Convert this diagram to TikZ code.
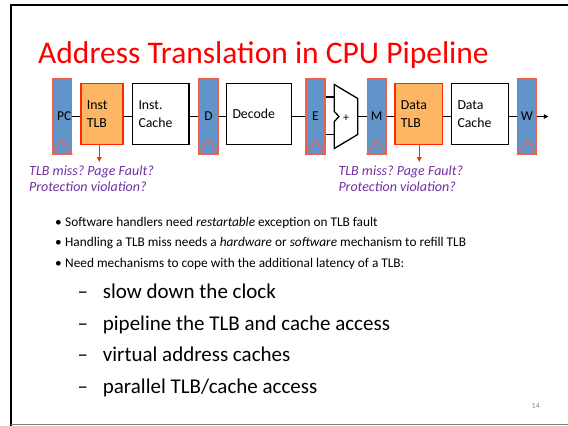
\documentclass[tikz,border=0pt]{standalone}
\usepackage{fontspec}
\setmainfont{Carlito}
\usetikzlibrary{arrows.meta}
\definecolor{regblue}{RGB}{97,148,200}
\definecolor{regedge}{RGB}{238,96,78}
\definecolor{tlbfill}{RGB}{252,182,100}
\definecolor{tlbedge}{RGB}{255,40,0}
\definecolor{faultpurple}{RGB}{112,48,160}
\definecolor{pagegray}{RGB}{140,140,140}
\frenchspacing
\tikzset{
  pipereg/.style={draw=regedge, fill=regblue, line width=1.1pt, minimum width=19pt, minimum height=75pt, inner sep=0pt, font=\fontsize{13.5}{15}\selectfont},
  stagebox/.style={draw=black, line width=1.3pt, fill=white, minimum height=61.2pt, inner xsep=5.8pt, inner ysep=0pt, align=left, font=\fontsize{13.8}{17.7}\selectfont},
  tlbbox/.style={stagebox, draw=tlbedge, fill=tlbfill},
  wire/.style={line width=1.3pt},
  faultarrow/.style={tlbedge, line width=1.3pt, -{Triangle[length=4.5pt,width=4.5pt]}},
  faultnote/.style={faultpurple, anchor=base west, inner sep=0pt, font=\fontsize{14}{16}\selectfont\itshape},
  bodytext/.style={anchor=base west, inner sep=0pt, font=\fontsize{13.3}{15}\selectfont},
  subtext/.style={anchor=base west, inner sep=0pt, font=\fontsize{21}{24}\selectfont}
}
\begin{document}
\begin{tikzpicture}[x=1pt, y=-1pt]
  \useasboundingbox (0,0) rectangle (568,426);
  \draw[black, line width=1.8pt] (11,426) -- (11,5) -- (572,5);
  \draw[gray, line width=1.5pt] (11,424.7) -- (572,424.7);

  \node[anchor=base west, inner sep=0pt, red, font=\fontsize{31.5}{34}\selectfont] (title) at (38,63) {Address Translation in CPU Pipeline};

  \node[pipereg, text width=18pt, align=right] (pc) at (62.2,116.5) {PC};
  \node[tlbbox, text width=30.4pt] (itlb) at (102,113.9) {Inst\\TLB};
  \node[stagebox, text width=44.7pt] (icache) at (160.85,113.9) {Inst.\\Cache};
  \node[pipereg] (dreg) at (208.5,116.5) {D};
  \node[stagebox, text width=53.4pt] (decode) at (259.2,113.9) {Decode};
  \node[pipereg] (ereg) at (315.5,116.5) {E};
  \node[pipereg] (mreg) at (376.7,116.5) {M};
  \node[tlbbox, text width=35.7pt] (dtlb) at (418.7,113.9) {Data\\TLB};
  \node[stagebox, text width=45pt] (dcache) at (480,113.9) {Data\\Cache};
  \node[pipereg] (wreg) at (527,116.5) {W};

  \foreach \r in {pc,dreg,ereg,mreg,wreg}
    \draw[regedge, line width=1.1pt] (\r.south west) -- ([yshift=14.5pt]\r.south) -- (\r.south east);

  \draw[wire, fill=white] (334.3,84.5) -- (357.7,98.5) -- (357.7,134.5) -- (334.3,148.5)
    -- (334.3,121.5) -- (339,116.5) -- (334.3,111.5) -- cycle;
  \node[inner sep=0pt, font=\fontsize{12}{14}\selectfont] (plus) at (346,118) {+};
  \coordinate (aluinA) at (334.3,97);
  \coordinate (aluinB) at (334.3,134.5);
  \coordinate (aluout) at (357.7,116.5);

  \foreach \a/\b in {pc/itlb,itlb/icache,icache/dreg,dreg/decode,decode/ereg,mreg/dtlb,dtlb/dcache,dcache/wreg}
    \draw[wire] (\a.east |- pc.east) -- (\b.west |- pc.east);
  \draw[wire] (ereg.east |- aluinA) -- (aluinA);
  \draw[wire] (ereg.east |- aluinB) -- (aluinB);
  \draw[wire] (aluout) -- (mreg.west |- aluout);
  \coordinate (wout) at (548.3,116.5);
  \draw[wire, -{Triangle[length=4.5pt,width=4.5pt]}] (wreg.east) -- (wout);

  \coordinate (ifault) at (99.3,161.7);
  \coordinate (dfault) at (419.3,161.7);
  \draw[faultarrow] (ifault |- itlb.south) -- (ifault);
  \draw[faultarrow] (dfault |- dtlb.south) -- (dfault);
  \node[faultnote] (inoteA) at (29,175) {TLB miss? Page Fault?};
  \node[faultnote] (inoteB) at (29,191) {Protection violation?};
  \node[faultnote] (dnoteA) at (338.3,175) {TLB miss? Page Fault?};
  \node[faultnote] (dnoteB) at (338.3,191) {Protection violation?};

  \foreach \y/\t [count=\i] in {226.7/{Software handlers need \textit{restartable} exception on TLB fault},
      246.7/{Handling a TLB miss needs a \textit{hardware} or \textit{software} mechanism to refill TLB},
      267.3/{Need mechanisms to cope with the additional latency of a TLB:}} {
    \node[bodytext] (dot\i) at (55,\y) {•};
    \node[bodytext] (item\i) at (65,\y) {\t};
  }
  \foreach \y/\t [count=\i] in {298.5/{slow down the clock}, 330/{pipeline the TLB and cache access},
      361.5/{virtual address caches}, 393/{parallel TLB/cache access}} {
    \node[subtext] (dash\i) at (77.3,\y) {–};
    \node[subtext] (sub\i) at (102.7,\y) {\t};
  }

  \node[anchor=base east, inner sep=0pt, pagegray, font=\fontsize{8}{9}\selectfont] (pnum) at (540,408) {14};
\end{tikzpicture}
\end{document}
